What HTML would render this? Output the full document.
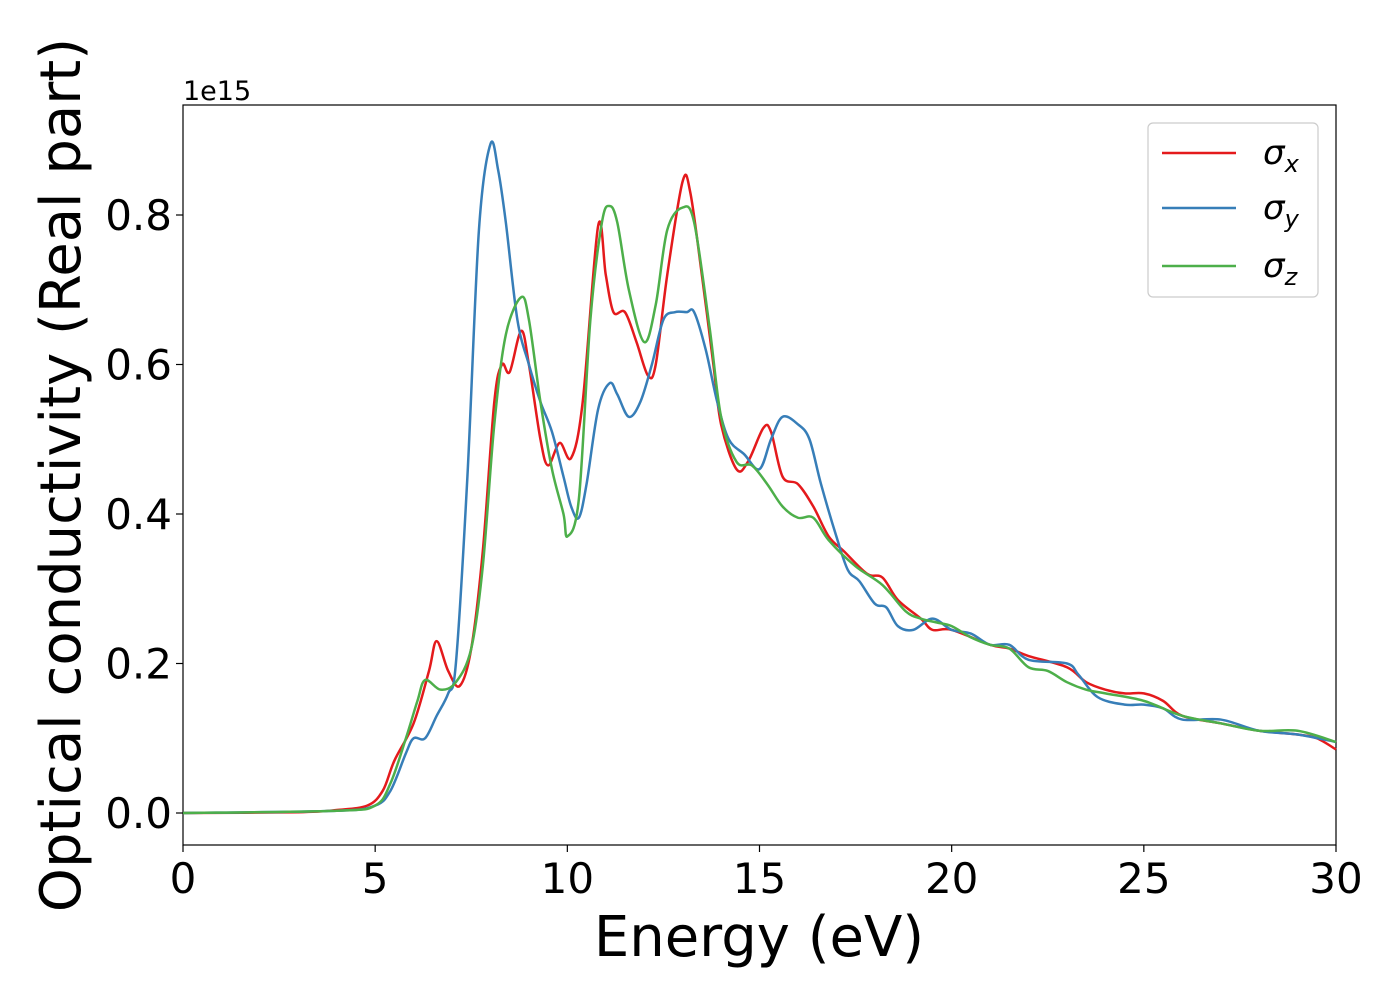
<!DOCTYPE html>
<html><head><meta charset="utf-8"><style>
body{margin:0;background:#fff;}
svg text{font-family:"DejaVu Sans","Liberation Sans",sans-serif;}
</style></head><body>
<svg id="chart" width="1400" height="1000" xmlns="http://www.w3.org/2000/svg">
<rect x="183" y="105" width="1153" height="740" fill="#fff" stroke="#000" stroke-width="1.2"/>
<g id="xticks"></g>
<g id="yticks"></g>
<g id="series"></g>
<text x="183" y="100" font-size="27">1e15</text>
<text x="759" y="956" font-size="56" text-anchor="middle">Energy (eV)</text>
<text transform="translate(80,475) rotate(-90)" font-size="56" text-anchor="middle">Optical conductivity (Real part)</text>
<g>
<rect x="1148" y="123" width="170" height="174" rx="5" fill="#fff" stroke="#ccc" stroke-width="1.2"/>
<line x1="1162" y1="153" x2="1236" y2="153" stroke="#e41a1c" stroke-width="2.5"/>
<text x="1263" y="164" font-size="34" font-style="italic">σ<tspan font-size="24" dy="8">x</tspan></text>
<line x1="1162" y1="208" x2="1236" y2="208" stroke="#377eb8" stroke-width="2.5"/>
<text x="1263" y="219" font-size="34" font-style="italic">σ<tspan font-size="24" dy="8">y</tspan></text>
<line x1="1162" y1="266" x2="1236" y2="266" stroke="#4daf4a" stroke-width="2.5"/>
<text x="1263" y="277" font-size="34" font-style="italic">σ<tspan font-size="24" dy="8">z</tspan></text>
</g>
</svg>
<script>
const xTicks=[0,5,10,15,20,25,30];
const yTicks=[0.0,0.2,0.4,0.6,0.8];
const sxE=[0,3,4,4.8,5.2,5.5,6,6.4,6.6,6.9,7.2,7.5,7.8,8.1,8.3,8.5,8.8,9.0,9.3,9.5,9.8,10.1,10.4,10.8,11.0,11.2,11.5,11.8,12.1,12.3,12.6,13.0,13.2,13.5,13.8,14.0,14.4,14.7,15.1,15.3,15.6,16.0,16.4,16.8,17.2,17.8,18.2,18.6,19.2,19.5,20,21,21.5,22,23,23.5,24,24.5,25,25.5,26,27,28,29,29.5,30];
const sxV=[0,0.001,0.004,0.01,0.03,0.07,0.12,0.19,0.23,0.19,0.17,0.22,0.35,0.55,0.6,0.59,0.645,0.6,0.5,0.465,0.495,0.475,0.55,0.785,0.72,0.67,0.67,0.63,0.585,0.6,0.72,0.845,0.83,0.72,0.6,0.52,0.46,0.47,0.515,0.51,0.45,0.44,0.41,0.37,0.35,0.32,0.315,0.285,0.26,0.245,0.245,0.225,0.22,0.21,0.195,0.175,0.165,0.16,0.16,0.15,0.13,0.12,0.11,0.105,0.1,0.085];
const syE=[0,4,5,5.4,5.8,6.0,6.3,6.6,6.9,7.1,7.4,7.7,8.0,8.2,8.4,8.7,9.0,9.3,9.6,9.9,10.1,10.3,10.5,10.8,11.1,11.3,11.6,11.9,12.2,12.5,12.8,13.1,13.3,13.6,13.9,14.2,14.6,15.0,15.3,15.6,16.0,16.3,16.6,17.0,17.3,17.6,18.0,18.3,18.6,19.0,19.5,20,20.5,21,21.5,22,23,23.3,23.8,24.5,25,25.5,26,27,28,29,30];
const syV=[0,0.003,0.01,0.03,0.08,0.1,0.1,0.13,0.16,0.2,0.45,0.78,0.895,0.86,0.79,0.66,0.6,0.55,0.51,0.45,0.41,0.395,0.44,0.54,0.575,0.56,0.53,0.55,0.6,0.66,0.67,0.67,0.67,0.62,0.55,0.5,0.48,0.46,0.5,0.53,0.52,0.5,0.44,0.37,0.325,0.31,0.28,0.275,0.25,0.245,0.26,0.245,0.24,0.225,0.225,0.205,0.2,0.185,0.155,0.145,0.145,0.14,0.125,0.125,0.11,0.105,0.095];
const szE=[0,4,5,5.4,5.8,6.1,6.3,6.7,7.1,7.5,7.8,8.1,8.4,8.8,9.0,9.3,9.6,9.9,10.0,10.3,10.6,10.9,11.1,11.3,11.6,12.0,12.3,12.6,13.0,13.3,13.7,14.0,14.4,14.8,15.2,15.6,16.0,16.4,16.8,17.5,18.2,18.8,19.2,19.6,20,20.5,21,21.5,22,22.5,23,23.5,24,25,26,27,28,29,30];
const szV=[0,0.003,0.01,0.04,0.1,0.15,0.178,0.165,0.175,0.22,0.33,0.52,0.64,0.69,0.66,0.55,0.46,0.4,0.37,0.42,0.66,0.79,0.812,0.79,0.7,0.63,0.68,0.78,0.81,0.79,0.65,0.53,0.47,0.465,0.44,0.41,0.395,0.395,0.365,0.33,0.305,0.27,0.26,0.255,0.25,0.235,0.225,0.22,0.195,0.19,0.175,0.165,0.16,0.15,0.13,0.12,0.11,0.11,0.095];
const NS="http://www.w3.org/2000/svg";
const X=v=>183+v/30*1153;
const Y=v=>813-v*747.5;
function mk(t,a,p){const e=document.createElementNS(NS,t);for(const k in a)e.setAttribute(k,a[k]);p.appendChild(e);return e;}
const gx=document.getElementById('xticks'),gy=document.getElementById('yticks'),gs=document.getElementById('series');
xTicks.forEach(t=>{
 const l=mk('line',{x1:X(t),x2:X(t),y1:845,y2:852,stroke:'#000','stroke-width':1.2},gx);
 
 
 const s=mk('text',{x:X(t),y:893,'font-size':42,'text-anchor':'middle'},gx);s.textContent=t;
 
 
});
yTicks.forEach(t=>{
 const l=mk('line',{x1:176,x2:183,y1:Y(t),y2:Y(t),stroke:'#000','stroke-width':1.2},gy);
 
 
 const s=mk('text',{x:172,y:Y(t)+15,'font-size':42,'text-anchor':'end'},gy);s.textContent=t.toFixed(1);
 
 
});
function path(E,V){
 const p=E.map((e,i)=>[X(e),Y(V[i])]);
 let d='M'+p[0][0]+','+p[0][1];
 for(let i=0;i<p.length-1;i++){
  const p0=p[i-1]||p[i],p1=p[i],p2=p[i+1],p3=p[i+2]||p2;
  const c1=[p1[0]+(p2[0]-p0[0])/6,p1[1]+(p2[1]-p0[1])/6];
  const c2=[p2[0]-(p3[0]-p1[0])/6,p2[1]-(p3[1]-p1[1])/6];
  d+=`C${c1[0]},${c1[1]} ${c2[0]},${c2[1]} ${p2[0]},${p2[1]}`;
 }
 return d;
}
[[sxE,sxV,'#e41a1c','sigma-x-line'],[syE,syV,'#377eb8','sigma-y-line'],[szE,szV,'#4daf4a','sigma-z-line']].forEach(s=>{
 const e=mk('path',{d:path(s[0],s[1]),fill:'none',stroke:s[2],'stroke-width':2.5},gs);
 
 
});
</script>
</body></html>
